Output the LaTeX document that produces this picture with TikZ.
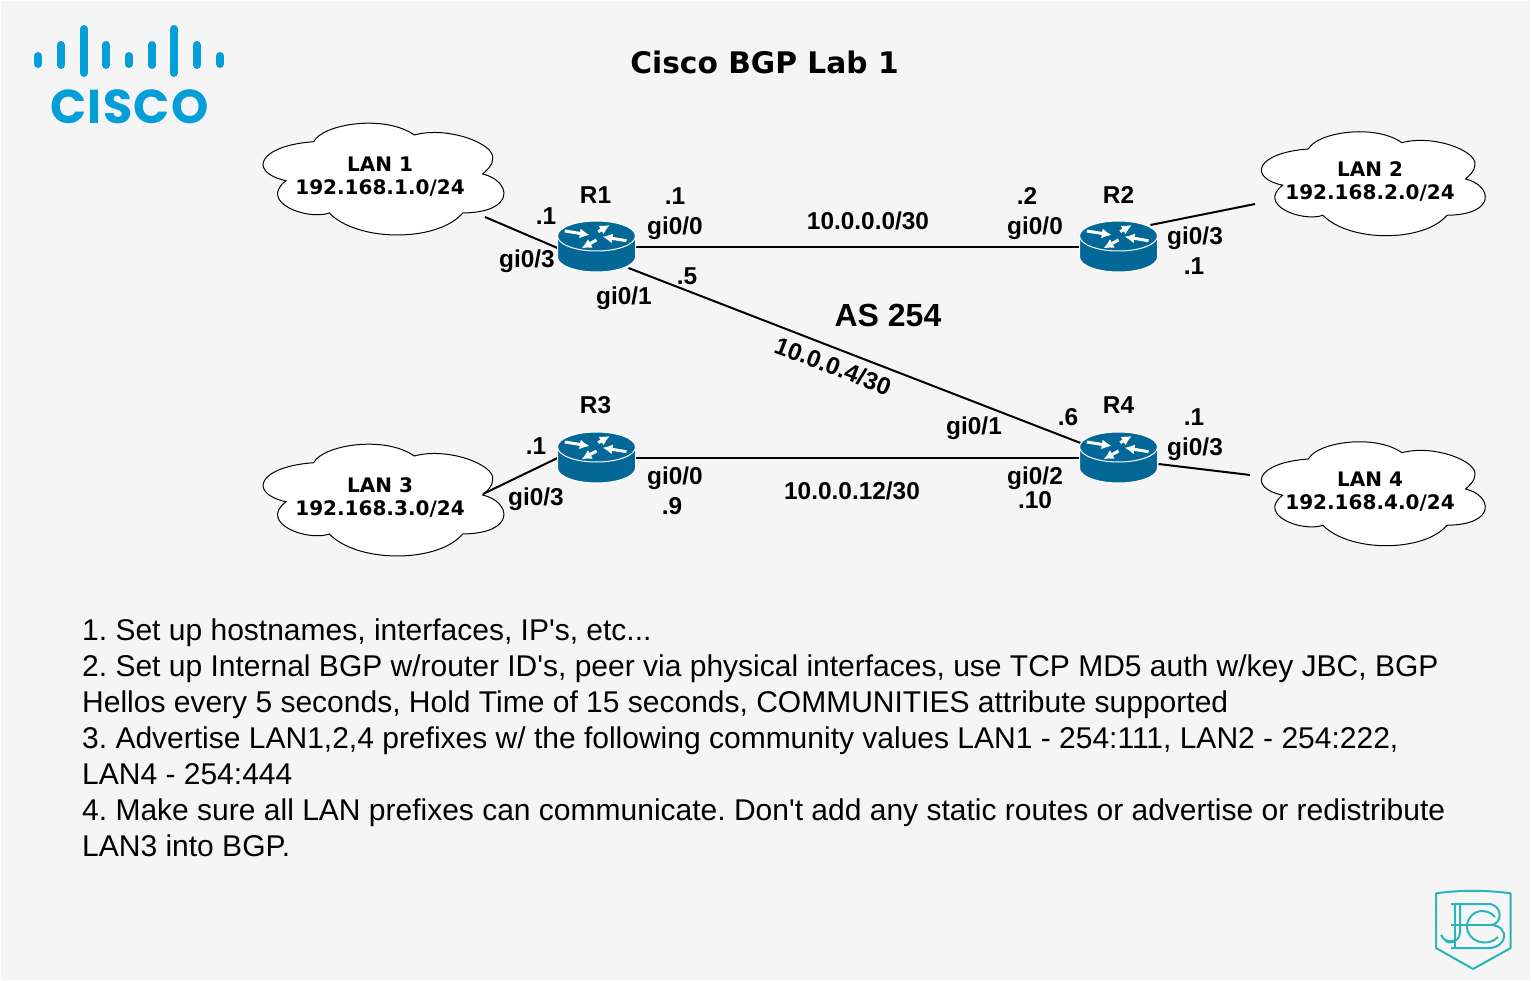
\documentclass[tikz,border=0pt]{standalone}
\usepackage{fontspec}
\setmainfont{Liberation Sans}
\newfontfamily\plainfont{Liberation Sans}
\newfontfamily\vdfont{DejaVu Sans}
\newfontfamily\logofont{Poppins}
\usetikzlibrary{arrows.meta}
\definecolor{bgc}{HTML}{F5F5F5}
\definecolor{routerc}{HTML}{036897}
\definecolor{ciscoc}{HTML}{049FD9}
\definecolor{jbcc}{HTML}{2AB5B9}
\tikzset{
  x=1pt,y=-1pt,
  lbl/.style={font=\fontsize{24.4}{28}\selectfont\bfseries,inner sep=0pt},
  lanlbl/.style={font=\vdfont\fontsize{20}{23}\selectfont\bfseries,align=center,inner sep=0pt},
  rnode/.style={minimum width=78pt,minimum height=52pt,inner sep=0pt},
  link/.style={line width=2pt,black},
  bar/.style={line width=8pt,line cap=round,ciscoc},
  jbcline/.style={line width=2pt,jbcc},
  routerarrow/.style={white,line width=3pt,-{Latex[length=10pt,width=10pt]}},
  routerpic/.pic={
    \path[fill=routerc,draw=white,line width=1pt]
      (-39,10) arc[start angle=180,end angle=0,x radius=39,y radius=15]
      -- (39,-11) arc[start angle=0,end angle=-180,x radius=39,y radius=15] -- cycle;
    \path[draw=white,line width=1pt] (-39,-11) arc[start angle=180,end angle=0,x radius=39,y radius=15];
    \draw[routerarrow] (-31.7,-16) -- (-6.7,-12);
    \draw[routerarrow] (30,-6.3) -- (6,-10.3);
    \draw[routerarrow] (0,-7) -- (-15,1.3);
    \draw[routerarrow] (1.7,-15.3) -- (13.3,-22);
  },
  cloudpic/.pic={
    \path[fill=white,draw=black,line width=1pt]
      (-67.3,-32.3) .. controls (-58.3,-50) and (3.3,-60) .. (33.3,-39)
      .. controls (66.7,-48.3) and (115,-30) .. (111.7,-15)
      .. controls (111.7,-8.3) and (105,-3.3) .. (101.7,0)
      .. controls (130,6.7) and (136,38.3) .. (81.7,39)
      .. controls (56.7,68.3) and (-23.3,68.3) .. (-51.7,39)
      .. controls (-73.3,46.7) and (-123.3,28.3) .. (-95,6.7)
      .. controls (-133.3,-1.7) and (-123.3,-28.3) .. (-67.3,-32.3) -- cycle;
  }
}
\begin{document}
\begin{tikzpicture}
\useasboundingbox (0,0) rectangle (1531,981);
\fill[white] (0,0) rectangle (1531,981);
\fill[bgc] (1,1) rectangle (1530,980);

% Cisco logo
\foreach \x/\a/\b in {38/56/64,61/45/65,84/29/73,106/45/65,129/56/64,152/45/65,174/29/73,197/45/65,220/56/64}
  \draw[bar] (\x,\a) -- (\x,\b);
\node[font=\logofont\fontsize{47.5}{50}\selectfont\bfseries,text=ciscoc,inner sep=0pt] (ciscotext) at (129.5,107) {\addfontfeature{LetterSpace=3}CISCO};

% Title
\node[font=\vdfont\fontsize{29.7}{34}\selectfont\bfseries,inner sep=0pt] (title) at (764.5,62) {Cisco BGP Lab 1};

% Clouds
\pic at (381,174) {cloudpic};
\pic at (381,495) {cloudpic};
\pic[scale=.93] at (1371,179) {cloudpic};
\pic[scale=.93] at (1371,489) {cloudpic};
\node[lanlbl] (LAN1) at (380,177) {LAN 1\\192.168.1.0/24};
\node[lanlbl] (LAN3) at (380,498) {LAN 3\\192.168.3.0/24};
\node[lanlbl] (LAN2) at (1370,182) {LAN 2\\192.168.2.0/24};
\node[lanlbl] (LAN4) at (1370,492) {LAN 4\\192.168.4.0/24};

% Router anchors
\node[rnode] (R1) at (596.5,247) {};
\node[rnode] (R2) at (1118.5,247) {};
\node[rnode] (R3) at (596.5,458) {};
\node[rnode] (R4) at (1118.5,458) {};

% Links
\draw[link] (R1.center) -- (R2.center);
\draw[link] (R3.center) -- (R4.center);
\draw[link] ([shift={(32,21)}]R1.center) -- ([shift={(-38,-15)}]R4.center);
\draw[link] ([shift={(105,40)}]LAN1.center) -- ([shift={(-39,1)}]R1.center);
\draw[link] ([shift={(103,-4)}]LAN3.center) -- ([shift={(-39,0)}]R3.center);
\draw[link] ([shift={(32,-22)}]R2.center) -- ([shift={(-115,22)}]LAN2.center);
\draw[link] ([shift={(40,6)}]R4.center) -- ([shift={(-120,-17)}]LAN4.center);

% Routers
\pic at (R1.center) {routerpic};
\pic at (R2.center) {routerpic};
\pic at (R3.center) {routerpic};
\pic at (R4.center) {routerpic};

% Labels
\node[lbl] (r1n) at (595.5,195) {R1};
\node[lbl] (r2n) at (1118.5,195) {R2};
\node[lbl] (r3n) at (595.5,405) {R3};
\node[lbl] (r4n) at (1118.5,405) {R4};
\node[lbl] (a1) at (546,216) {.1};
\node[lbl] (a2) at (527,261) {gi0/3};
\node[lbl] (a3) at (675,196) {.1};
\node[lbl] (a4) at (675,228) {gi0/0};
\node[lbl] (a5) at (624,298) {gi0/1};
\node[lbl] (a6) at (687,276) {.5};
\node[lbl] (a7) at (868,221) {10.0.0.0/30};
\node[lbl] (a8) at (1027,196) {.2};
\node[lbl] (a9) at (1035,228) {gi0/0};
\node[lbl] (a10) at (1195,238) {gi0/3};
\node[lbl] (a11) at (1194,266) {.1};
\node[lbl,font=\fontsize{32}{36}\selectfont\bfseries] (as) at (888,315) {AS 254};
\node[lbl,rotate=-21] (a12) at (833,366) {10.0.0.4/30};
\node[lbl] (a13) at (974,428) {gi0/1};
\node[lbl] (a14) at (1068,417) {.6};
\node[lbl] (a15) at (1194,417) {.1};
\node[lbl] (a16) at (1195,449) {gi0/3};
\node[lbl] (a17) at (536,446) {.1};
\node[lbl] (a18) at (536,499) {gi0/3};
\node[lbl] (a19) at (675,478) {gi0/0};
\node[lbl] (a20) at (672,506) {.9};
\node[lbl] (a21) at (852,491) {10.0.0.12/30};
\node[lbl] (a22) at (1035,478) {gi0/2};
\node[lbl] (a23) at (1035,500) {.10};

% Body text
\node[anchor=north west,inner sep=0pt,align=left,font=\plainfont\fontsize{30}{36}\selectfont\frenchspacing] (body) at (82,619) {%
1. Set up hostnames, interfaces, IP's, etc...\\
2. Set up Internal BGP w/router ID's, peer via physical interfaces, use TCP MD5 auth w/key JBC, BGP\\
Hellos every 5 seconds, Hold Time of 15 seconds, COMMUNITIES attribute supported\\
3. Advertise LAN1,2,4 prefixes w/ the following community values LAN1 - 254:111, LAN2 - 254:222,\\
LAN4 - 254:444\\
4. Make sure all LAN prefixes can communicate. Don't add any static routes or advertise or redistribute\\
LAN3 into BGP.};

% JBC logo
\draw[jbcline,line join=round] (1436,893.3) .. controls (1460,890) and (1486,890) .. (1510.7,893.3) -- (1510.7,948) -- (1473,969) -- (1436,948) -- cycle;
\draw[jbcline] (1451,904) -- (1488,904) .. controls (1503,904) and (1503,924) .. (1491,925) .. controls (1510,926) and (1508,948) .. (1488,948) -- (1451,948);
\draw[jbcline] (1455,904) -- (1455,948);
\draw[jbcline] (1460,904) -- (1460,932) .. controls (1460,942) and (1448,945) .. (1445,940) (1441,935) .. controls (1444,941) and (1450,943) .. (1455,940);
\draw[jbcline] (1451,925) -- (1491,925);
\draw[jbcline] (1495,917) .. controls (1488,908) and (1470,908) .. (1467,925) .. controls (1466,942) and (1488,948) .. (1498,937);
\end{tikzpicture}
\end{document}
